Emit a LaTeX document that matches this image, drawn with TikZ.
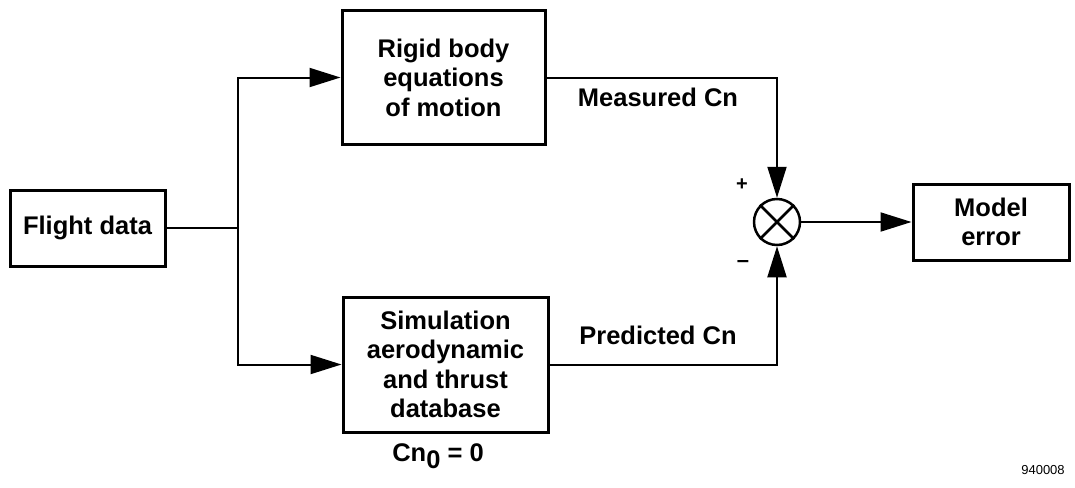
\documentclass[tikz,border=0pt]{standalone}
\usepackage{fontspec}
\setmainfont{Liberation Sans}
\usetikzlibrary{arrows.meta}

\tikzset{
  blockbox/.style={draw, line width=3pt, align=center, inner sep=2pt,
    font=\fontsize{25.5}{29.5}\selectfont\bfseries},
  link/.style={line width=2pt},
  flow/.style={link, -{Triangle[length=31pt,width=19pt]}},
  tag/.style={font=\fontsize{25.5}{29.5}\selectfont\bfseries}
}

\begin{document}
\begin{tikzpicture}[x=1pt,y=-1pt]
  \useasboundingbox (0,0) rectangle (1075,487);

  % Blocks
  \node[blockbox, minimum width=155pt, minimum height=76pt] (flight) at (87.5,228) {Flight data};
  \node[blockbox, minimum width=203pt, minimum height=133pt] (rigid) at (443.5,77.5) {Rigid body\\equations\\of motion};
  \node[blockbox, minimum width=205pt, minimum height=135pt] (sim) at (445.5,364.5) {Simulation\\aerodynamic\\and thrust\\database};
  \node[blockbox, minimum width=156pt, minimum height=76pt] (model) at (991,222) {Model\\error};

  % Summing junction
  \node[draw, circle, line width=2.5pt, minimum size=46pt, inner sep=0pt] (sum) at (777,222) {};
  \draw[line width=2.5pt] (sum.45) -- (sum.225) (sum.135) -- (sum.-45);

  % Connectors
  \coordinate (split) at (238,228);
  \draw[link] (flight.east) -- (split);
  \draw[flow] (split) |- (rigid.west);
  \draw[flow] (split) |- (sim.west);
  \draw[flow] (rigid.east) -| (sum.north);
  \draw[flow] (sim.east) -| (sum.south);
  \draw[flow] (sum.east) -- (model.west);

  % Labels
  \node[tag] (measured) at (658,97) {Measured Cn};
  \node[tag] (predicted) at (658,335) {Predicted Cn};
  \node[tag] (cnzero) at (438,456) {Cn\raisebox{-7pt}{0} = 0};
  \node[font=\fontsize{20}{20}\selectfont\bfseries] (plus) at (742,185) {+};
  \node[font=\fontsize{22}{22}\selectfont\bfseries] (minus) at (743,264) {–};
  \node[font=\fontsize{13}{13}\selectfont] (figno) at (1043,470) {940008};
\end{tikzpicture}
\end{document}
